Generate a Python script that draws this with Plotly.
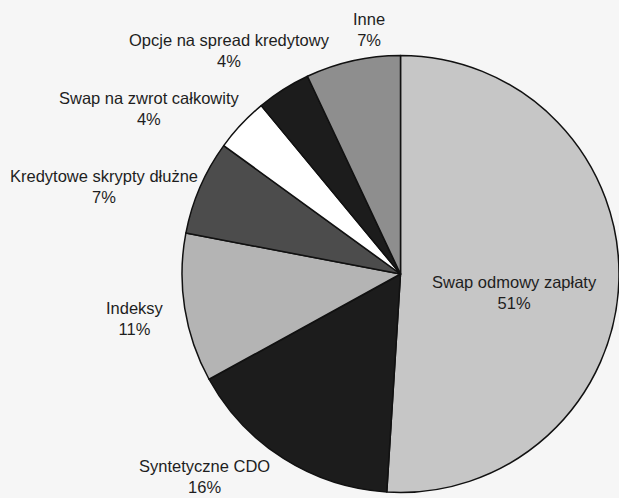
import plotly.graph_objects as go

labels = ["Swap odmowy zapłaty", "Syntetyczne CDO", "Indeksy",
          "Kredytowe skrypty dłużne", "Swap na zwrot całkowity",
          "Opcje na spread kredytowy", "Inne"]
values = [51, 16, 11, 7, 4, 4, 7]
colors = ["#c6c6c6", "#1c1c1c", "#b4b4b4", "#4c4c4c", "#ffffff", "#1c1c1c", "#8e8e8e"]

# label centre positions in pixels (x, y from top) for the 619x498 canvas
label_pos = [(514, 292), (204, 476), (135, 318), (104, 186),
             (149, 108), (230, 50), (369, 30)]

W, H = 619, 498
cx, cy, R = 401, 274, 219

fig = go.Figure(go.Pie(
    labels=labels, values=values, sort=False, direction="clockwise", rotation=0,
    marker=dict(colors=colors, line=dict(color="#111111", width=1.5)),
    textinfo="none", hoverinfo="label+percent",
    domain=dict(x=[(cx - R) / W, 1.0], y=[(H - cy - R) / H, (H - cy + R) / H]),
))

for lab, val, (px, py) in zip(labels, values, label_pos):
    fig.add_annotation(
        x=px / W, y=1 - py / H, xref="paper", yref="paper",
        text=f"{lab}<br>{val}%", showarrow=False, align="center",
        xanchor="center", yanchor="middle",
        font=dict(family="Liberation Sans, Arial, sans-serif", size=16.5, color="#1e1e1e"),
    )

fig.update_layout(
    width=W, height=H, margin=dict(l=0, r=0, t=0, b=0),
    showlegend=False, paper_bgcolor="#f6f6f6", plot_bgcolor="#f6f6f6",
)
fig.write_html("out.html", config={"displayModeBar": False},
               post_script="document.body.style.margin='0';document.body.style.overflow='hidden';")
